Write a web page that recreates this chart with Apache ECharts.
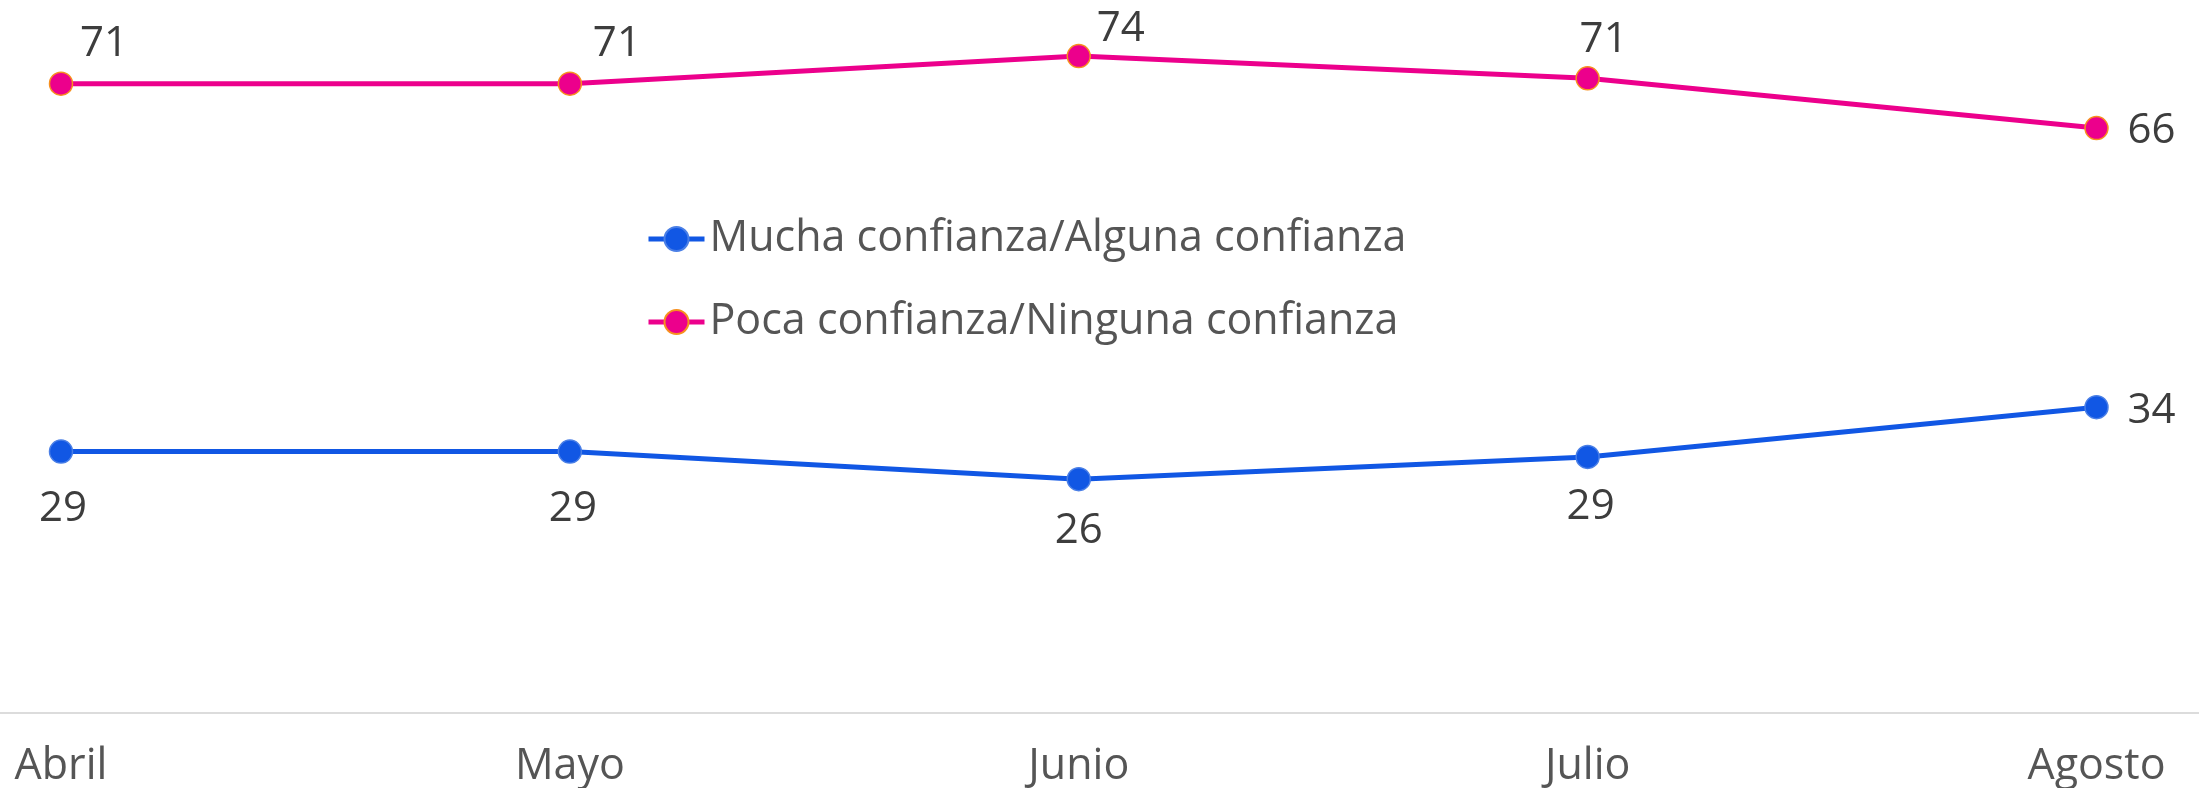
<!DOCTYPE html>
<html>
<head>
<meta charset="utf-8">
<script src="https://cdn.jsdelivr.net/npm/echarts@6/dist/echarts.min.js"></script>
<style>
  html, body { margin: 0; padding: 0; background: #ffffff; }
  #chart { width: 2199px; height: 788px; }
</style>
</head>
<body>
<div id="chart"></div>
<script>
// Monthly confidence survey: share of respondents per answer group (%)
const months = ['Abril', 'Mayo', 'Junio', 'Julio', 'Agosto'];
const muchaConfianza = [29.3, 29.3, 26.2, 28.7, 34.3];
const pocaConfianza = [70.7, 70.7, 73.8, 71.3, 65.7];
const seriesNames = ['Mucha confianza/Alguna confianza', 'Poca confianza/Ninguna confianza'];

// Label placement (offset of each value label from its point)
const muchaLabelOffsets = [[2, 57], [3, 57], [0, 52], [3, 50], [55, 4]];
const pocaLabelOffsets = [[43, -40], [47, -40], [42, -27], [16, -38], [55, 3]];

const FONT = '"Open Sans", Roboto, sans-serif';
const BLUE = '#1157e4';
const PINK = '#ec008c';

function labelled(values, offsets) {
  return values.map((v, i) => ({
    value: v,
    label: { offset: offsets[i] }
  }));
}

const chart = echarts.init(document.getElementById('chart'), null, { renderer: 'canvas' });

chart.setOption({
  animation: false,
  backgroundColor: '#ffffff',
  grid: [
    { left: 61, right: 102.5, top: 1, bottom: 75.5 },
    { left: 0, right: 0, top: 1, bottom: 75.5 }
  ],
  legend: {
    orient: 'vertical',
    left: 641,
    top: 210,
    itemWidth: 56,
    itemHeight: 30,
    itemGap: 35,
    lineStyle: { width: 5 },
    textStyle: { fontFamily: FONT, fontSize: 43, color: '#555555', lineHeight: 48 },
    data: seriesNames
  },
  xAxis: [
    {
      type: 'category',
      gridIndex: 0,
      data: months,
      boundaryGap: false,
      axisLine: { show: false },
      axisTick: { show: false },
      splitLine: { show: false },
      axisLabel: {
        fontFamily: FONT,
        fontSize: 43,
        color: '#555555',
        margin: 33
      }
    },
    {
      // full-width baseline under the plot
      type: 'value',
      gridIndex: 1,
      min: 0,
      max: 1,
      axisLine: { show: true, lineStyle: { color: '#dcdcdc', width: 2 } },
      axisTick: { show: false },
      axisLabel: { show: false },
      splitLine: { show: false }
    }
  ],
  yAxis: [
    { type: 'value', gridIndex: 0, min: 0, max: 80, interval: 20, show: false },
    { type: 'value', gridIndex: 1, min: 0, max: 1, show: false }
  ],
  series: [
    {
      name: seriesNames[0],
      type: 'line',
      xAxisIndex: 0,
      yAxisIndex: 0,
      data: labelled(muchaConfianza, muchaLabelOffsets),
      symbol: 'circle',
      symbolSize: 23,
      lineStyle: { color: BLUE, width: 5 },
      itemStyle: { color: BLUE, borderColor: '#4a7fe6', borderWidth: 1.5 },
      label: {
        show: true,
        position: 'inside',
        fontFamily: FONT,
        fontSize: 42,
        color: '#3d3d3d',
        formatter: p => String(Math.round(p.value))
      },
      z: 3
    },
    {
      name: seriesNames[1],
      type: 'line',
      xAxisIndex: 0,
      yAxisIndex: 0,
      data: labelled(pocaConfianza, pocaLabelOffsets),
      symbol: 'circle',
      symbolSize: 23,
      lineStyle: { color: PINK, width: 5 },
      itemStyle: { color: PINK, borderColor: '#f7901e', borderWidth: 1.5 },
      label: {
        show: true,
        position: 'inside',
        fontFamily: FONT,
        fontSize: 42,
        color: '#3d3d3d',
        formatter: p => String(Math.round(p.value))
      },
      z: 3
    }
  ]
});
</script>
</body>
</html>
